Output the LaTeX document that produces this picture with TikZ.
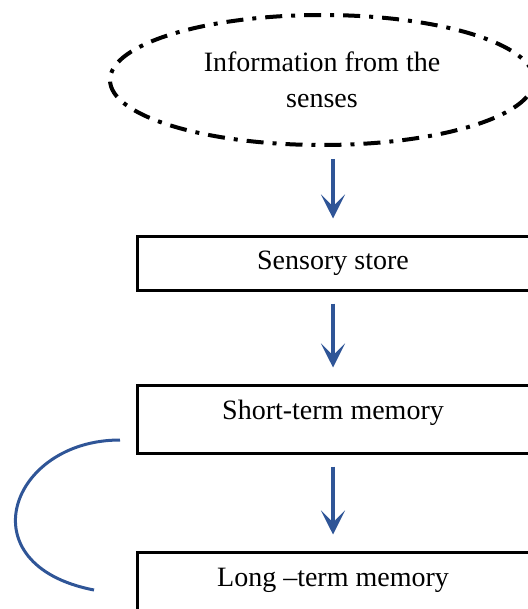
\documentclass[tikz,border=0pt]{standalone}
\usepackage{fontspec}
\setmainfont{Liberation Serif}
\usetikzlibrary{shapes.geometric,arrows.meta}
\definecolor{flowblue}{RGB}{47,85,151}

\begin{document}
\begin{tikzpicture}[x=0.5pt,y=-0.5pt,
	font=\fontsize{14}{18}\selectfont,
	stage/.style = {draw, line width=1.5pt, inner sep=0pt, minimum width=196pt},
	flow/.style = {draw=flowblue, line width=2pt, shorten <=6pt, shorten >=8pt,
		-{Stealth[length=12pt,width=12pt,inset=6pt]}}
]
\useasboundingbox (0,0) rectangle (528,609);
\node[ellipse, draw, line width=2pt, dash pattern=on 8.5pt off 4.5pt on 2pt off 4.5pt,
	minimum width=212pt, minimum height=65pt, inner sep=0pt, align=center]
	(senses) at (322,80) {Information from the\\senses};
\node[stage, minimum height=27pt] (sensory) at (333,263) {Sensory store};
\node[stage, minimum height=34pt, text depth=9pt] (shortterm) at (333,419) {Short-term memory};
\node[stage, minimum height=34pt, text depth=9pt] (longterm) at (333,586) {Long --term memory};
\draw[flow] (senses.south -| sensory.north) -- (sensory.north);
\draw[flow] (sensory) -- (shortterm);
\draw[flow] (shortterm) -- (longterm);
% rehearsal loop
\coordinate (loopin) at (120,440);
\coordinate (loopout) at (94,590);
\draw[flowblue, line width=1.5pt] (loopin) .. controls (10,440) and (-35,565) .. (loopout);
\end{tikzpicture}
\end{document}
